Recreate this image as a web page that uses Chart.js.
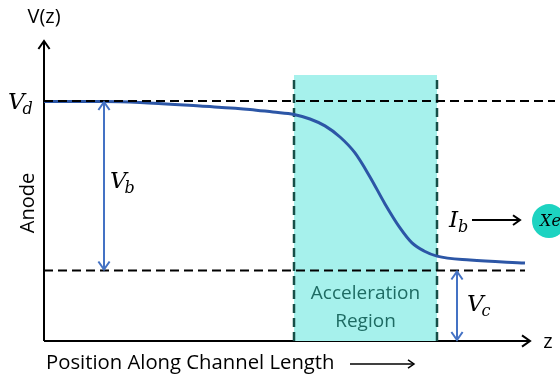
<!DOCTYPE html>
<html>
<head>
<meta charset="utf-8">
<script src="https://cdn.jsdelivr.net/npm/chart.js@4.4.1/dist/chart.umd.min.js"></script>
<style>
  html, body { margin: 0; padding: 0; background: #fff; }
  #wrap { width: 560px; height: 377px; }
</style>
</head>
<body>
<div id="wrap"><canvas id="myChart" width="560" height="377"></canvas></div>
<script>
// potential profile along the channel (position z, voltage V)
const curveZ = [0, 1.18, 1.92, 3.12, 4.12, 4.58, 5.0, 5.32, 5.62, 5.92, 6.22, 6.52, 6.82, 7.12, 7.36, 7.6, 7.86, 8.52, 9.62];
const curveV = [7.98, 7.98, 7.95, 7.83, 7.72, 7.63, 7.55, 7.4, 7.17, 6.8, 6.27, 5.47, 4.57, 3.77, 3.27, 3.0, 2.83, 2.7, 2.6];

// reference levels
const vdLevel = 8.0;
const vcLevel = 2.35;
const vdLineEnd = 10.22;
const vcLineEnd = 9.62;

// acceleration region
const regionStart = 5.0;
const regionEnd = 7.86;
const regionTop = 8.87;

// annotation positions (z)
const vbArrowZ = 1.2;
const vcArrowZ = 8.26;
const ibArrowFrom = 8.56;
const ibArrowTo = 9.52;
const ibLevel = 4.03;
const ionZ = 10.1;

const zMax = 10.24;
const vMax = 10;

const toPts = (xs, ys) => xs.map((x, i) => ({ x: x, y: ys[i] }));

const mathFont = 'italic 23px "DejaVu Serif", serif';
const subFont = 'italic 16px "DejaVu Serif", serif';
const textFont = '"Open Sans", "Noto Sans", sans-serif';

function arrowHead(ctx, x, y, dir, size) {
  // dir: 'up' | 'down' | 'right'
  ctx.beginPath();
  if (dir === 'up') {
    ctx.moveTo(x - size * 0.7, y + size);
    ctx.lineTo(x, y);
    ctx.lineTo(x + size * 0.7, y + size);
  } else if (dir === 'down') {
    ctx.moveTo(x - size * 0.7, y - size);
    ctx.lineTo(x, y);
    ctx.lineTo(x + size * 0.7, y - size);
  } else {
    ctx.moveTo(x - size, y - size * 0.7);
    ctx.lineTo(x, y);
    ctx.lineTo(x - size, y + size * 0.7);
  }
  ctx.stroke();
}

function labelV(ctx, x, y, sub) {
  ctx.font = mathFont;
  ctx.textBaseline = 'alphabetic';
  ctx.textAlign = 'left';
  ctx.fillStyle = '#000';
  ctx.fillText('V', x, y);
  const w = ctx.measureText('V').width;
  ctx.font = subFont;
  ctx.fillText(sub, x + w - 2, y + 5);
}

const decor = {
  id: 'decor',
  beforeDatasetsDraw(chart) {
    const { ctx, chartArea } = chart;
    const xs = chart.scales.x;
    ctx.save();
    ctx.strokeStyle = '#000';
    ctx.lineWidth = 2;
    ctx.setLineDash([]);
    // y axis
    ctx.beginPath();
    ctx.moveTo(chartArea.left, chartArea.bottom);
    ctx.lineTo(chartArea.left, chartArea.top + 1);
    ctx.stroke();
    arrowHead(ctx, chartArea.left, chartArea.top, 'up', 8);
    // x axis
    const xEnd = xs.getPixelForValue(9.72);
    ctx.beginPath();
    ctx.moveTo(chartArea.left, chartArea.bottom);
    ctx.lineTo(xEnd - 1, chartArea.bottom);
    ctx.stroke();
    arrowHead(ctx, xEnd, chartArea.bottom, 'right', 8);
    ctx.restore();
  },
  afterDatasetsDraw(chart) {
    const { ctx, chartArea } = chart;
    const xs = chart.scales.x;
    const ys = chart.scales.y;
    ctx.save();
    ctx.setLineDash([]);

    // V_b and V_c double arrows
    ctx.strokeStyle = '#4472C4';
    ctx.lineWidth = 2;
    const drawDouble = (z, v1, v2) => {
      const x = xs.getPixelForValue(z);
      const yTop = ys.getPixelForValue(v1);
      const yBot = ys.getPixelForValue(v2);
      ctx.beginPath();
      ctx.moveTo(x, yTop + 1);
      ctx.lineTo(x, yBot - 1);
      ctx.stroke();
      arrowHead(ctx, x, yTop + 1, 'up', 8);
      arrowHead(ctx, x, yBot - 1, 'down', 8);
    };
    drawDouble(vbArrowZ, vdLevel, vcLevel);
    drawDouble(vcArrowZ, vcLevel, 0);

    // I_b arrow
    ctx.strokeStyle = '#000';
    ctx.lineWidth = 2;
    const iy = ys.getPixelForValue(ibLevel);
    const ix1 = xs.getPixelForValue(ibArrowFrom);
    const ix2 = xs.getPixelForValue(ibArrowTo);
    ctx.beginPath();
    ctx.moveTo(ix1, iy);
    ctx.lineTo(ix2 - 1, iy);
    ctx.stroke();
    arrowHead(ctx, ix2, iy, 'right', 7);

    // ion
    const cx = xs.getPixelForValue(ionZ);
    ctx.fillStyle = '#1DD3C1';
    ctx.beginPath();
    ctx.arc(cx, iy + 1, 17, 0, Math.PI * 2);
    ctx.fill();
    ctx.fillStyle = '#000';
    ctx.font = 'italic 16px "DejaVu Serif", serif';
    ctx.textAlign = 'left';
    ctx.textBaseline = 'middle';
    ctx.fillText('Xe', cx - 9, iy + 2);
    ctx.font = 'italic 10px "DejaVu Serif", serif';
    ctx.fillText('+', cx + 13, iy - 4);

    // math labels
    labelV(ctx, 8, ys.getPixelForValue(vdLevel) + 8, 'd');
    labelV(ctx, xs.getPixelForValue(vbArrowZ) + 6, ys.getPixelForValue(5.1), 'b');
    labelV(ctx, xs.getPixelForValue(vcArrowZ) + 10, ys.getPixelForValue(1.0), 'c');
    ctx.font = mathFont;
    ctx.fillStyle = '#000';
    ctx.textBaseline = 'alphabetic';
    ctx.fillText('I', ix1 - 23, iy + 7);
    ctx.font = subFont;
    ctx.fillText('b', ix1 - 14, iy + 12);

    // plain text
    ctx.fillStyle = '#000';
    ctx.font = '20px ' + textFont;
    ctx.textAlign = 'center';
    ctx.textBaseline = 'middle';
    ctx.fillText('V(z)', chartArea.left, 17);
    ctx.fillText('z', 548, chartArea.bottom + 1);
    ctx.textAlign = 'left';
    ctx.font = '20.3px ' + textFont;
    ctx.fillText('Position Along Channel Length', 46, 363);
    ctx.lineWidth = 1.5;
    ctx.beginPath();
    ctx.moveTo(350, 364);
    ctx.lineTo(413, 364);
    ctx.stroke();
    arrowHead(ctx, 414, 364, 'right', 6);

    ctx.save();
    ctx.translate(28, 203);
    ctx.rotate(-Math.PI / 2);
    ctx.textAlign = 'center';
    ctx.font = '20px ' + textFont;
    ctx.fillText('Anode', 0, 0);
    ctx.restore();

    // region label
    ctx.fillStyle = '#1E6B63';
    ctx.textAlign = 'center';
    ctx.font = '19px ' + textFont;
    const rx = xs.getPixelForValue((regionStart + regionEnd) / 2);
    ctx.fillText('Acceleration', rx, 294);
    ctx.fillText('Region', rx, 322);
    ctx.restore();
  }
};

const ctx = document.getElementById('myChart').getContext('2d');
new Chart(ctx, {
  type: 'scatter',
  data: {
    datasets: [
      {
        label: 'potential',
        data: toPts(curveZ, curveV),
        showLine: true,
        borderColor: '#2C56A6',
        borderWidth: 3,
        pointRadius: 0,
        cubicInterpolationMode: 'monotone',
        order: 1
      },
      {
        label: 'Vd',
        data: [{ x: 0, y: vdLevel }, { x: vdLineEnd, y: vdLevel }],
        showLine: true,
        borderColor: '#000',
        borderWidth: 2.2,
        borderDash: [9, 5],
        pointRadius: 0,
        order: 0
      },
      {
        label: 'Vc',
        data: [{ x: 0, y: vcLevel }, { x: vcLineEnd, y: vcLevel }],
        showLine: true,
        borderColor: '#000',
        borderWidth: 2.2,
        borderDash: [9, 5],
        pointRadius: 0,
        order: 2
      },
      {
        label: 'regionLeft',
        data: [{ x: regionStart, y: 0 }, { x: regionStart, y: regionTop }],
        showLine: true,
        borderColor: '#174F48',
        borderWidth: 2.5,
        borderDash: [9, 5],
        pointRadius: 0,
        order: 3
      },
      {
        label: 'regionRight',
        data: [{ x: regionEnd, y: 0 }, { x: regionEnd, y: regionTop }],
        showLine: true,
        borderColor: '#174F48',
        borderWidth: 2.5,
        borderDash: [9, 5],
        pointRadius: 0,
        order: 3
      },
      {
        label: 'region',
        data: [{ x: regionStart, y: 0 }, { x: regionStart, y: regionTop }, { x: regionEnd, y: regionTop }, { x: regionEnd, y: 0 }],
        showLine: true,
        borderWidth: 0,
        borderColor: 'rgba(0,0,0,0)',
        backgroundColor: 'rgb(166,241,236)',
        fill: 'origin',
        pointRadius: 0,
        order: 4
      }
    ]
  },
  options: {
    responsive: false,
    animation: false,
    events: [],
    layout: { padding: { left: 44, right: 4, top: 41, bottom: 36 } },
    plugins: {
      legend: { display: false },
      tooltip: { enabled: false }
    },
    scales: {
      x: { type: 'linear', min: 0, max: zMax, display: false },
      y: { type: 'linear', min: 0, max: vMax, display: false }
    },
    elements: { line: { clip: false } }
  },
  plugins: [decor]
});
</script>
</body>
</html>
